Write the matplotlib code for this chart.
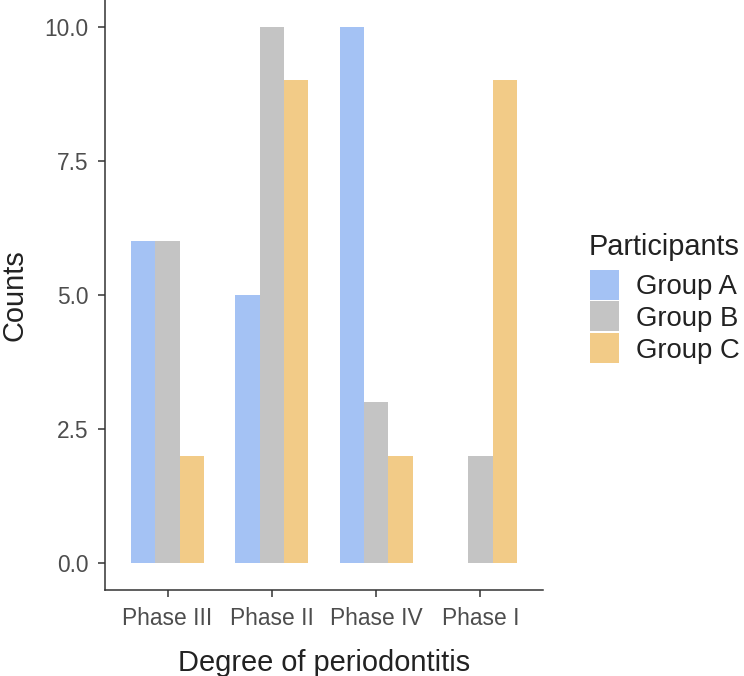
import matplotlib
matplotlib.use("Agg")
import matplotlib.pyplot as plt
from matplotlib.patches import Rectangle
import numpy as np

categories = ["Phase III", "Phase II", "Phase IV", "Phase I"]
groups = ["Group A", "Group B", "Group C"]
group_a = [6, 5, 10, 0]
group_b = [6, 10, 3, 2]
group_c = [2, 9, 2, 9]
yticks = [0.0, 2.5, 5.0, 7.5, 10.0]
colors = ["#A4C2F4", "#C4C4C4", "#F2CB87"]

plt.rcParams['font.family'] = ['Liberation Sans', 'DejaVu Sans']

W, H = 744, 676
fig = plt.figure(figsize=(W/100, H/100), dpi=100)
ax = fig.add_axes([105/W, 1-590/H, (543-105)/W, 590/H])

series = [group_a, group_b, group_c]
x = np.arange(len(categories))
w = 0.7/3
for j, (vals, col) in enumerate(zip(series, colors)):
    ax.bar(x + (j-1)*w, vals, width=w, color=col, linewidth=0)

ax.set_xlim(-0.6, len(categories)-1+0.6)
ax.set_ylim(-0.5, 10.5)
ax.set_xticks(x)
ax.set_xticklabels(categories)
ax.set_yticks(yticks)
ax.set_yticklabels([f"{v:.1f}" for v in yticks])

for s in ["top", "right"]:
    ax.spines[s].set_visible(False)
for s in ["left", "bottom"]:
    ax.spines[s].set_color("#333333")
    ax.spines[s].set_linewidth(1.1)
ax.tick_params(axis="both", length=5, width=1.1, color="#333333",
               labelcolor="#4D4D4D", labelsize=16.4, pad=7)

ax.set_xlabel("Degree of periodontitis", fontsize=20.9, color="#222222", labelpad=14)
ax.set_ylabel("Counts", fontsize=20.9, color="#222222", labelpad=11)

# manual legend (ggplot style)
fig.text(589/W, 1-255/H, "Participants", fontsize=20.8, color="#222222",
         ha="left", va="baseline")
key_x, key_w, key_h, pitch, top0 = 590, 29, 30, 31.5, 269.5
for i, (g, c) in enumerate(zip(groups, colors)):
    top = top0 + i*pitch
    fig.patches.append(Rectangle((key_x/W, 1-(top+key_h)/H), key_w/W, key_h/H,
                                 transform=fig.transFigure, facecolor=c,
                                 edgecolor="none"))
    fig.text(636/W, 1-(top+key_h/2)/H, g, fontsize=19.8, color="#222222",
             ha="left", va="center_baseline")

fig.savefig("out.png", dpi=100)
